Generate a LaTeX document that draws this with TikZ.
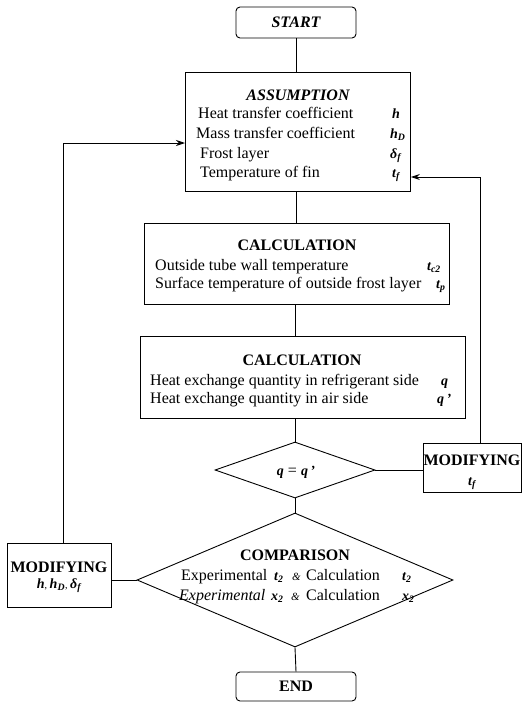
\documentclass[tikz,border=0pt]{standalone}
\usepackage{fontspec}
\setmainfont{Liberation Serif}
\usetikzlibrary{arrows.meta,shapes.geometric,calc}
\newcommand\vname[1]{{\fontsize{14}{16}\selectfont\bfseries\itshape #1}}
\newcommand\sbs[1]{\textsubscript{#1}}
\newcommand\amp{{\fontsize{11}{12}\selectfont\itshape\&}}
\begin{document}
\begin{tikzpicture}[x=1pt,y=-1pt,
  ln/.style={line width=0.9pt},
  arr/.style={line width=0.9pt,-{Stealth[length=9pt,width=6pt]}},
  box/.style={draw,line width=0.9pt,inner sep=0pt,anchor=north west},
  rbox/.style={draw,line width=0.9pt,inner sep=0pt,rounded corners=4pt,
     font=\fontsize{16}{18}\selectfont\bfseries},
  dia/.style={draw,line width=0.9pt,diamond,inner sep=0pt},
  tx/.style={inner sep=0pt,anchor=base west,font=\fontsize{16}{18}\selectfont},
  hd/.style={inner sep=0pt,anchor=base,font=\fontsize{16}{18}\selectfont\bfseries},
  vr/.style={inner sep=0pt,anchor=base west}]
\fill[white] (0,0) rectangle (524,704);
\useasboundingbox (0,0) rectangle (524,704);

% boxes
\node[rbox,minimum width=120pt,minimum height=31pt] (S) at (296,22.5) {\itshape START};
\node[box,minimum width=225pt,minimum height=119pt] (A) at (185,72) {};
\node[box,minimum width=305pt,minimum height=81pt] (C1) at (144,223) {};
\node[box,minimum width=325pt,minimum height=82pt] (C2) at (140,336) {};
\node[dia,minimum width=160pt,minimum height=56pt] (D1) at (295,470) {};
\node[box,minimum width=98pt,minimum height=49pt] (MR) at (423,443) {};
\node[dia,minimum width=316pt,minimum height=134pt] (D2) at (295,580) {};
\node[box,minimum width=104pt,minimum height=64pt] (ML) at (7,543) {};
\node[rbox,minimum width=120pt,minimum height=29pt] (E) at (296,686.5) {END};

% ASSUMPTION text
\node[hd,font=\fontsize{16}{18}\selectfont\bfseries\itshape] (At) at (298,100) {ASSUMPTION};
\node[tx] (A1) at (198,118) {Heat transfer coefficient};
\node[tx] (A2) at (196,138) {Mass transfer coefficient};
\node[tx] (A3) at (200,158) {Frost layer};
\node[tx] (A4) at (200,177) {Temperature of fin};
\node[vr] (Av1) at (392,118) {\vname{h}};
\node[vr] (Av2) at (390,138) {\vname{h\sbs{D}}};
\node[vr] (Av3) at (390,158) {\vname{δ\sbs{f}}};
\node[vr] (Av4) at (392,177) {\vname{t\sbs{f}}};

% CALCULATION 1
\node[hd] (C1t) at (297,250) {CALCULATION};
\node[tx] (C11) at (155,270) {Outside tube wall temperature};
\node[tx] (C12) at (155,288) {Surface temperature of outside frost layer};
\node[vr] (C1v1) at (427,270) {\vname{t\sbs{c2}}};
\node[vr] (C1v2) at (436,288) {\vname{t\sbs{p}}};

% CALCULATION 2
\node[hd] (C2t) at (302,365) {CALCULATION};
\node[tx] (C21) at (150,385) {Heat exchange quantity in refrigerant side};
\node[tx] (C22) at (150,403) {Heat exchange quantity in air side};
\node[vr] (C2v1) at (441,385) {\vname{q}};
\node[vr] (C2v2) at (437,403) {\vname{q\,'}};

% decision 1
\node[inner sep=0pt,anchor=base,font=\fontsize{16}{18}\selectfont] (D1t) at (296,475)
  {\vname{q} = \vname{q\,'}};

% MODIFYING right
\node[hd] (MRt) at (472,465) {MODIFYING};
\node[vr,anchor=base] (MRv) at (472,485) {\vname{t\sbs{f}}};

% COMPARISON
\node[hd] (D2t) at (295,560) {COMPARISON};
\node[tx] (D2a) at (181,580) {Experimental};
\node[vr] (D2b) at (274,580) {\vname{t\sbs{2}}};
\node[vr] (D2c) at (292,580) {\amp};
\node[tx] (D2d) at (306,580) {Calculation};
\node[vr] (D2e) at (402,580) {\vname{t\sbs{2}}};
\node[tx,font=\fontsize{16}{18}\selectfont\itshape] (D2f) at (179,600) {Experimental};
\node[vr] (D2g) at (271,600) {\vname{x\sbs{2}}};
\node[vr] (D2h) at (291,600) {\amp};
\node[tx] (D2i) at (306,600) {Calculation};
\node[vr] (D2j) at (402,600) {\vname{x\sbs{2}}};

% MODIFYING left
\node[hd] (MLt) at (59,572) {MODIFYING};
\node[vr,anchor=base] (MLv) at (59,588) {\vname{h}, \vname{h\sbs{D}}, \vname{δ\sbs{f}}};

% connectors
\draw[ln] (S.south) -- (S.south |- A.north);
\draw[ln] (A.south -| S.south) -- (S.south |- C1.north);
\draw[ln] (C1.south -| D1.north) -- (D1.north |- C2.north);
\draw[ln] (D1.north |- C2.south) -- (D1.north);
\draw[ln] (D1.south) -- (D2.north);
\draw[ln] (D2.south) -- (E.north);
\draw[ln] (D1.east) -- (MR.west |- D1.east);
\draw[ln] (D2.west) -- (ML.east |- D2.west);
\coordinate (rl) at (480,177);
\draw[arr] (MR.north -| rl) -- (rl) -- (A.east |- rl);
\coordinate (ll) at (63,143);
\draw[arr] (ML.north -| ll) -- (ll) -- (A.west |- ll);
\end{tikzpicture}
\end{document}
